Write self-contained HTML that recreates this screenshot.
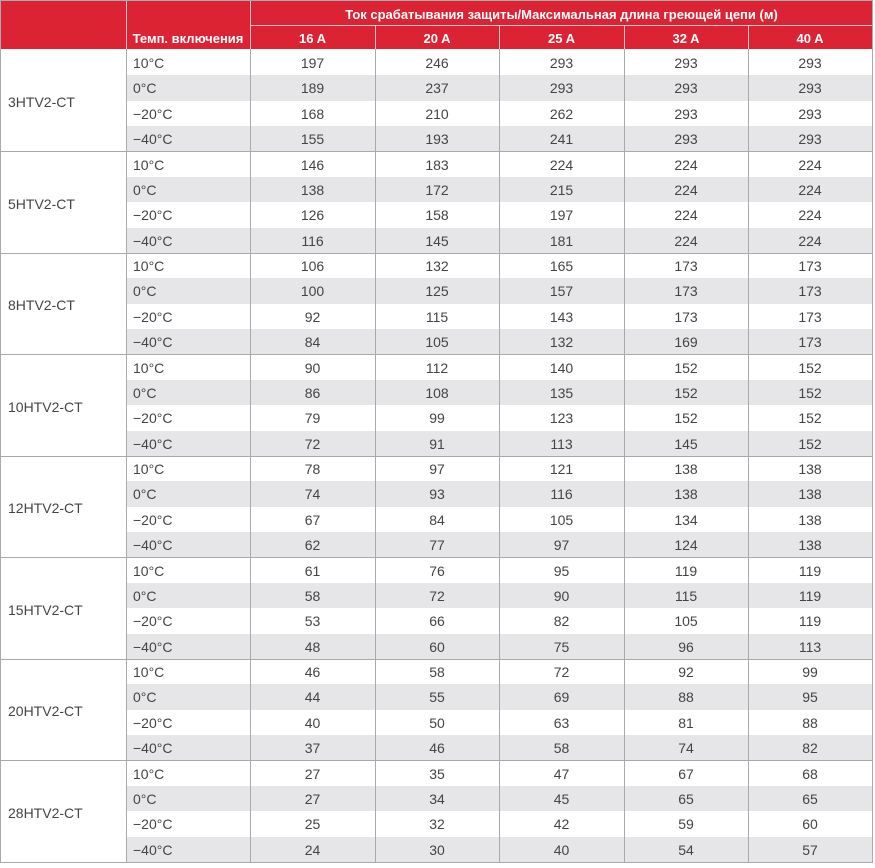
<!DOCTYPE html>
<html><head><meta charset="utf-8">
<style>
*{margin:0;padding:0;box-sizing:border-box}
html,body{width:875px;height:868px;background:#fff;overflow:hidden}
body{position:relative;font-family:"Liberation Sans","DejaVu Sans",sans-serif;color:#444}
.frame{position:absolute;left:0;top:0;width:873px;height:863px;border:1px solid #a9a9b0}
.hdr{position:absolute;left:1px;top:1px;width:871px;height:48px;background:#dc2334}
.ht{position:absolute;color:#fff;font-weight:bold;font-size:13px;text-align:center;white-space:nowrap}
.vl{position:absolute;width:1px;background:#a9a9b0}
.hl{position:absolute;height:1px;background:#a9a9b0;left:0;width:873px}
.hv{position:absolute;width:1px;background:rgba(255,255,255,0.75)}
#bodyc{position:absolute;left:1px;top:50px;width:871px}
.g{display:flex;height:101.5px}
.m{width:125px;font-size:14px;display:flex;align-items:center;padding-left:7px;padding-top:3px}
.rows{width:746px}
.r{display:grid;grid-template-columns:124px 125px 124px 125px 124px 124px;height:25.375px;line-height:25.375px;font-size:14px}
.r.a{background:#e6e6e9}
.r div{text-align:center;position:relative;top:1px}
.r div:first-child{text-align:left;padding-left:7px}
</style></head><body>
<div class="frame"></div>
<div class="hdr"></div>
<div class="hv" style="left:126px;top:1px;height:48px"></div>
<div class="hv" style="left:250px;top:1px;height:48px"></div>
<div class="hv" style="left:375px;top:25px;height:24px"></div>
<div class="hv" style="left:499px;top:25px;height:24px"></div>
<div class="hv" style="left:624px;top:25px;height:24px"></div>
<div class="hv" style="left:748px;top:25px;height:24px"></div>
<div style="position:absolute;left:251px;top:25px;width:621px;height:1px;background:rgba(255,255,255,0.75)"></div>
<div class="ht" style="left:251px;top:6px;width:621px;line-height:18px">Ток срабатывания защиты/Максимальная длина греющей цепи (м)</div>
<div class="ht" style="left:126px;top:30px;width:124px;line-height:18px">Темп. включения</div>
<div class="ht" style="left:250px;top:30px;width:125px;line-height:18px">16 A</div>
<div class="ht" style="left:375px;top:30px;width:124px;line-height:18px">20 A</div>
<div class="ht" style="left:499px;top:30px;width:125px;line-height:18px">25 A</div>
<div class="ht" style="left:624px;top:30px;width:124px;line-height:18px">32 A</div>
<div class="ht" style="left:748px;top:30px;width:124px;line-height:18px">40 A</div>

<div id="bodyc">
<div class="g"><div class="m">3HTV2-CT</div><div class="rows">
<div class="r"><div>10°C</div><div>197</div><div>246</div><div>293</div><div>293</div><div>293</div></div>
<div class="r a"><div>0°C</div><div>189</div><div>237</div><div>293</div><div>293</div><div>293</div></div>
<div class="r"><div>−20°C</div><div>168</div><div>210</div><div>262</div><div>293</div><div>293</div></div>
<div class="r a"><div>−40°C</div><div>155</div><div>193</div><div>241</div><div>293</div><div>293</div></div>
</div></div>
<div class="g"><div class="m">5HTV2-CT</div><div class="rows">
<div class="r"><div>10°C</div><div>146</div><div>183</div><div>224</div><div>224</div><div>224</div></div>
<div class="r a"><div>0°C</div><div>138</div><div>172</div><div>215</div><div>224</div><div>224</div></div>
<div class="r"><div>−20°C</div><div>126</div><div>158</div><div>197</div><div>224</div><div>224</div></div>
<div class="r a"><div>−40°C</div><div>116</div><div>145</div><div>181</div><div>224</div><div>224</div></div>
</div></div>
<div class="g"><div class="m">8HTV2-CT</div><div class="rows">
<div class="r"><div>10°C</div><div>106</div><div>132</div><div>165</div><div>173</div><div>173</div></div>
<div class="r a"><div>0°C</div><div>100</div><div>125</div><div>157</div><div>173</div><div>173</div></div>
<div class="r"><div>−20°C</div><div>92</div><div>115</div><div>143</div><div>173</div><div>173</div></div>
<div class="r a"><div>−40°C</div><div>84</div><div>105</div><div>132</div><div>169</div><div>173</div></div>
</div></div>
<div class="g"><div class="m">10HTV2-CT</div><div class="rows">
<div class="r"><div>10°C</div><div>90</div><div>112</div><div>140</div><div>152</div><div>152</div></div>
<div class="r a"><div>0°C</div><div>86</div><div>108</div><div>135</div><div>152</div><div>152</div></div>
<div class="r"><div>−20°C</div><div>79</div><div>99</div><div>123</div><div>152</div><div>152</div></div>
<div class="r a"><div>−40°C</div><div>72</div><div>91</div><div>113</div><div>145</div><div>152</div></div>
</div></div>
<div class="g"><div class="m">12HTV2-CT</div><div class="rows">
<div class="r"><div>10°C</div><div>78</div><div>97</div><div>121</div><div>138</div><div>138</div></div>
<div class="r a"><div>0°C</div><div>74</div><div>93</div><div>116</div><div>138</div><div>138</div></div>
<div class="r"><div>−20°C</div><div>67</div><div>84</div><div>105</div><div>134</div><div>138</div></div>
<div class="r a"><div>−40°C</div><div>62</div><div>77</div><div>97</div><div>124</div><div>138</div></div>
</div></div>
<div class="g"><div class="m">15HTV2-CT</div><div class="rows">
<div class="r"><div>10°C</div><div>61</div><div>76</div><div>95</div><div>119</div><div>119</div></div>
<div class="r a"><div>0°C</div><div>58</div><div>72</div><div>90</div><div>115</div><div>119</div></div>
<div class="r"><div>−20°C</div><div>53</div><div>66</div><div>82</div><div>105</div><div>119</div></div>
<div class="r a"><div>−40°C</div><div>48</div><div>60</div><div>75</div><div>96</div><div>113</div></div>
</div></div>
<div class="g"><div class="m">20HTV2-CT</div><div class="rows">
<div class="r"><div>10°C</div><div>46</div><div>58</div><div>72</div><div>92</div><div>99</div></div>
<div class="r a"><div>0°C</div><div>44</div><div>55</div><div>69</div><div>88</div><div>95</div></div>
<div class="r"><div>−20°C</div><div>40</div><div>50</div><div>63</div><div>81</div><div>88</div></div>
<div class="r a"><div>−40°C</div><div>37</div><div>46</div><div>58</div><div>74</div><div>82</div></div>
</div></div>
<div class="g"><div class="m">28HTV2-CT</div><div class="rows">
<div class="r"><div>10°C</div><div>27</div><div>35</div><div>47</div><div>67</div><div>68</div></div>
<div class="r a"><div>0°C</div><div>27</div><div>34</div><div>45</div><div>65</div><div>65</div></div>
<div class="r"><div>−20°C</div><div>25</div><div>32</div><div>42</div><div>59</div><div>60</div></div>
<div class="r a"><div>−40°C</div><div>24</div><div>30</div><div>40</div><div>54</div><div>57</div></div>
</div></div>
</div>

<div class="vl" style="left:126px;top:49px;height:814px"></div>
<div class="vl" style="left:250px;top:49px;height:814px"></div>
<div class="vl" style="left:375px;top:49px;height:814px"></div>
<div class="vl" style="left:499px;top:49px;height:814px"></div>
<div class="vl" style="left:624px;top:49px;height:814px"></div>
<div class="vl" style="left:748px;top:49px;height:814px"></div>
<div class="hl" style="top:151px"></div>
<div class="hl" style="top:253px"></div>
<div class="hl" style="top:354px"></div>
<div class="hl" style="top:456px"></div>
<div class="hl" style="top:557px"></div>
<div class="hl" style="top:659px"></div>
<div class="hl" style="top:760px"></div>
<div class="hl" style="top:862px"></div>
</body></html>
